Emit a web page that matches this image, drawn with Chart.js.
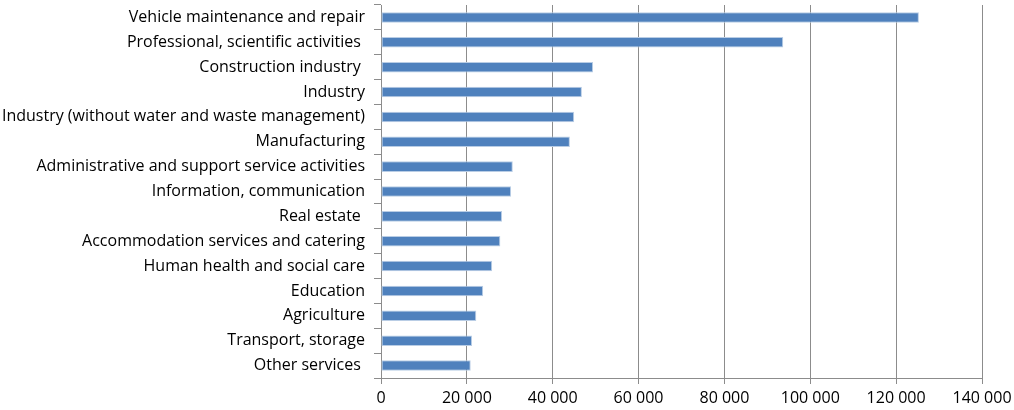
<!DOCTYPE html>
<html>
<head>
<meta charset="utf-8">
<script src="https://cdn.jsdelivr.net/npm/chart.js@4"></script>
<style>
  html, body { margin: 0; padding: 0; background: #fff; }
  #wrap { width: 1014px; height: 410px; }
</style>
</head>
<body>
<div id="wrap"><canvas id="barChart"></canvas></div>
<script>
// categories, top to bottom (trailing spaces kept as in the original labels)
const sectors = [
    "Vehicle maintenance and repair",
    "Professional, scientific activities ",
    "Construction industry ",
    "Industry",
    "Industry (without water and waste management)",
    "Manufacturing",
    "Administrative and support service activities",
    "Information, communication",
    "Real estate ",
    "Accommodation services and catering",
    "Human health and social care",
    "Education",
    "Agriculture",
    "Transport, storage",
    "Other services "
];

// values
const values = [125300, 93700, 49400, 46800, 45000, 44000, 30700, 30300, 28200, 27800, 25900, 23800, 22200, 21200, 20900];

// x axis ticks
const xMin = 0;
const xMax = 140000;
const xStep = 20000;

// "20 000" style number
function spaced(value){
    return String(value).replace(/\B(?=(\d{3})+(?!\d))/g, " ");
};

const context = document.getElementById("barChart");
new Chart(context, {
    type: 'bar',
    data: {
        labels: sectors,
        datasets: [{
            data: values,
            backgroundColor: '#4f81bd',
            borderColor: '#b9cde5',
            borderWidth: 1,
            borderSkipped: false,
            barPercentage: 0.9,
            categoryPercentage: 0.47
        }]
    },
    options: {
        indexAxis: 'y',
        responsive: true,
        maintainAspectRatio: false,
        animation: false,
        layout: {
            padding: { top: 5, right: 32, left: 0, bottom: 0 }
        },
        plugins: {
            legend: { display: false },
            tooltip: { enabled: false }
        },
        scales: {
            x: {
                min: xMin,
                max: xMax,
                ticks: {
                    stepSize: xStep,
                    color: '#000',
                    font: { family: 'Open Sans', size: 16 },
                    padding: 5,
                    maxRotation: 0,
                    callback: function(value){ return spaced(value); }
                },
                grid: {
                    color: '#8c8c8c',
                    lineWidth: 1,
                    tickLength: 6,
                    drawTicks: true
                },
                border: { display: true, color: '#8c8c8c' },
                afterFit: function(scale){
                    scale.height = 32;
                    scale.paddingLeft = 0;
                    scale.paddingRight = 0;
                }
            },
            y: {
                ticks: {
                    color: '#000',
                    font: { family: 'Open Sans', size: 16 },
                    padding: 9,
                    autoSkip: false
                },
                grid: {
                    offset: true,
                    drawOnChartArea: false,
                    color: '#8c8c8c',
                    tickLength: 7
                },
                border: { display: true, color: '#8c8c8c' },
                afterFit: function(scale){
                    scale.width = 381;
                    scale.paddingTop = 0;
                    scale.paddingBottom = 0;
                }
            }
        }
    }
});
</script>
</body>
</html>
